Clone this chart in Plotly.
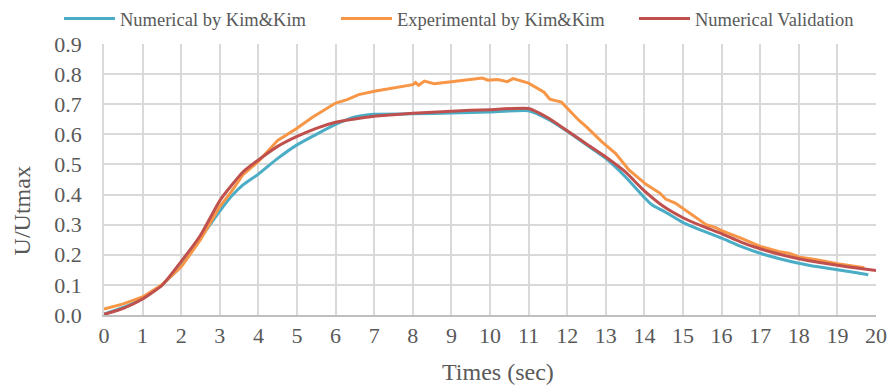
import plotly.graph_objects as go

# Numerical by Kim&Kim
num_x = [0, 0.5, 1, 1.5, 2, 2.5, 3, 3.3, 3.6, 4, 4.5, 5, 5.5, 6, 6.5, 7, 8, 9, 10, 11,
         11.5, 12, 12.5, 13, 13.5, 14, 14.2, 14.5, 15, 15.5, 16, 16.5, 17, 17.5, 18, 18.5,
         19, 19.5, 19.8]
num_y = [0.003, 0.025, 0.055, 0.1, 0.163, 0.255, 0.345, 0.394, 0.432, 0.468, 0.52, 0.565,
         0.6, 0.633, 0.658, 0.667, 0.668, 0.671, 0.674, 0.678,
         0.65, 0.61, 0.565, 0.52, 0.46, 0.39, 0.365, 0.345, 0.307, 0.28, 0.255, 0.228, 0.205,
         0.187, 0.172, 0.16, 0.15, 0.14, 0.134]

# Experimental by Kim&Kim
exp_x = [0, 0.5, 1, 1.5, 2, 2.5, 3, 3.3, 3.6, 4, 4.5, 5, 5.4, 6, 6.3, 6.6, 7, 7.5, 8,
         8.07, 8.15, 8.3, 8.55, 9, 9.5, 9.8, 9.95, 10.2, 10.45, 10.6, 11, 11.4, 11.55,
         11.85, 12.3, 12.5, 12.9, 13.25, 13.6, 14.05, 14.4, 14.55, 14.8, 15.2, 15.6,
         15.85, 16, 16.5, 17, 17.5, 17.75, 18, 18.5, 19, 19.5, 19.7]
exp_y = [0.02, 0.037, 0.06, 0.1, 0.16, 0.25, 0.36, 0.41, 0.466, 0.51, 0.58, 0.62, 0.657,
         0.704, 0.715, 0.732, 0.743, 0.755, 0.765,
         0.772, 0.763, 0.777, 0.768, 0.775, 0.782, 0.787, 0.78, 0.782, 0.775, 0.785, 0.77,
         0.74, 0.717, 0.707, 0.647, 0.625, 0.575, 0.537, 0.482, 0.433, 0.405, 0.385,
         0.372, 0.335, 0.3, 0.29, 0.28, 0.255, 0.228, 0.21, 0.205, 0.193, 0.183, 0.17,
         0.16, 0.157]

# Numerical Validation
val_x = [0, 0.5, 1, 1.5, 2, 2.5, 3, 3.3, 3.6, 4, 4.5, 5, 5.5, 6, 6.5, 7, 7.5, 8, 9, 10,
         11, 11.5, 12, 12.5, 13, 13.5, 14, 14.5, 15, 15.5, 16, 16.5, 17, 17.5, 18, 18.5,
         19, 19.5, 20]
val_y = [0.002, 0.022, 0.053, 0.098, 0.178, 0.265, 0.38, 0.43, 0.475, 0.515, 0.56,
         0.593, 0.62, 0.64, 0.651, 0.66, 0.665, 0.67, 0.677, 0.682,
         0.686, 0.655, 0.612, 0.568, 0.525, 0.476, 0.412, 0.36, 0.323, 0.295, 0.27, 0.242,
         0.22, 0.202, 0.187, 0.175, 0.165, 0.156, 0.148]

x_ticks = list(range(0, 21))
y_ticks = [round(0.1 * i, 1) for i in range(0, 10)]

serif = "Liberation Serif, Times New Roman, serif"
txt = "#595959"
W, H = 888, 387

fig = go.Figure()
fig.add_trace(go.Scatter(x=num_x, y=num_y, mode="lines", name="Numerical by Kim&Kim",
                         legend="legend",
                         line=dict(color="#4BACC6", width=3, shape="spline", smoothing=0.5)))
fig.add_trace(go.Scatter(x=exp_x, y=exp_y, mode="lines", name="Experimental by Kim&Kim",
                         legend="legend2",
                         line=dict(color="#F79646", width=3)))
fig.add_trace(go.Scatter(x=val_x, y=val_y, mode="lines", name="Numerical Validation",
                         legend="legend3",
                         line=dict(color="#C0504D", width=3, shape="spline", smoothing=0.5)))


def leg(px):
    return dict(orientation="h", xref="container", yref="container",
                x=px / W, xanchor="left", y=1.0, yanchor="top",
                font=dict(size=18.5, family=serif, color=txt),
                itemwidth=51, bgcolor="rgba(0,0,0,0)")


fig.update_layout(
    width=W, height=H,
    margin=dict(l=104, r=12, t=44, b=72, autoexpand=False),
    paper_bgcolor="white", plot_bgcolor="white",
    font=dict(family=serif, color=txt),
    showlegend=True,
    legend=leg(59), legend2=leg(336), legend3=leg(634),
    xaxis=dict(range=[0, 20], tickvals=x_ticks, ticktext=[str(v) for v in x_ticks],
               showgrid=True, gridcolor="#D9D9D9", gridwidth=1.5,
               showline=True, linecolor="#BFBFBF", linewidth=1.5,
               ticks="", tickfont=dict(size=22, family=serif, color=txt),
               zeroline=False),
    yaxis=dict(range=[0, 0.9], tickvals=y_ticks, ticktext=[f"{v:.1f}" for v in y_ticks],
               showgrid=True, gridcolor="#D9D9D9", gridwidth=1.5,
               showline=True, linecolor="#D9D9D9", linewidth=1.5,
               ticks="", tickfont=dict(size=22, family=serif, color=txt),
               ticklabelstandoff=16,
               zeroline=False),
    annotations=[
        dict(text="Times (sec)", xref="paper", yref="paper", x=(498 - 104) / 772,
             y=-57 / 272, xanchor="center", yanchor="middle", showarrow=False,
             font=dict(size=24, family=serif, color=txt)),
        dict(text="U/Utmax", xref="paper", yref="paper", x=-82 / 772,
             y=(315 - 211) / 272, xanchor="center", yanchor="middle", showarrow=False,
             textangle=-90, font=dict(size=24, family=serif, color=txt)),
    ],
)

fig.write_html("out.html", config={"displayModeBar": False},
               post_script="document.body.style.margin='0';document.body.style.padding='0';")
